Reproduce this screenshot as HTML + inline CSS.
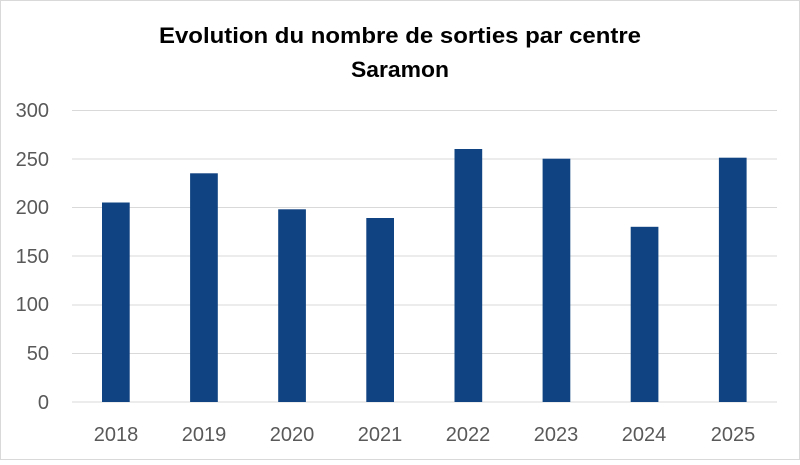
<!DOCTYPE html>
<html><head><meta charset="utf-8"><style>
html,body{margin:0;padding:0;background:#fff}
</style></head><body>
<svg width="800" height="460" xmlns="http://www.w3.org/2000/svg" font-family="'Liberation Sans', sans-serif">
<rect x="0.5" y="0.5" width="799" height="459" fill="#fff" stroke="#d9d9d9"/>
<text x="400" y="43" text-anchor="middle" font-size="22" font-weight="bold" fill="#000" textLength="482" lengthAdjust="spacingAndGlyphs">Evolution du nombre de sorties par centre</text>
<text x="400" y="77" text-anchor="middle" font-size="22" font-weight="bold" fill="#000" textLength="98" lengthAdjust="spacingAndGlyphs">Saramon</text>
<g stroke="#d9d9d9" stroke-width="1">
<line x1="72" x2="777" y1="110.5" y2="110.5"/>
<line x1="72" x2="777" y1="159" y2="159"/>
<line x1="72" x2="777" y1="207.5" y2="207.5"/>
<line x1="72" x2="777" y1="256" y2="256"/>
<line x1="72" x2="777" y1="305" y2="305"/>
<line x1="72" x2="777" y1="353.5" y2="353.5"/>
<line x1="72" x2="777" y1="402" y2="402"/>
</g>
<g font-size="20" fill="#595959" text-anchor="end">
<text x="49" y="117">300</text>
<text x="49" y="166">250</text>
<text x="49" y="214">200</text>
<text x="49" y="263">150</text>
<text x="49" y="311">100</text>
<text x="49" y="360">50</text>
<text x="49" y="409">0</text>
</g>
<g fill="#0f4381">
<rect x="102" y="202.5" width="27.7" height="199.5"/>
<rect x="190.1" y="173.3" width="27.7" height="228.7"/>
<rect x="278.2" y="209.3" width="27.7" height="192.7"/>
<rect x="366.3" y="218" width="27.7" height="184"/>
<rect x="454.5" y="149" width="27.7" height="253"/>
<rect x="542.6" y="158.7" width="27.7" height="243.3"/>
<rect x="630.7" y="226.8" width="27.7" height="175.2"/>
<rect x="718.9" y="157.7" width="27.7" height="244.3"/>
</g>
<g font-size="20" fill="#595959" text-anchor="middle">
<text x="116" y="441">2018</text>
<text x="204" y="441">2019</text>
<text x="292" y="441">2020</text>
<text x="380" y="441">2021</text>
<text x="468" y="441">2022</text>
<text x="556" y="441">2023</text>
<text x="644" y="441">2024</text>
<text x="733" y="441">2025</text>
</g>
</svg>
</body></html>
